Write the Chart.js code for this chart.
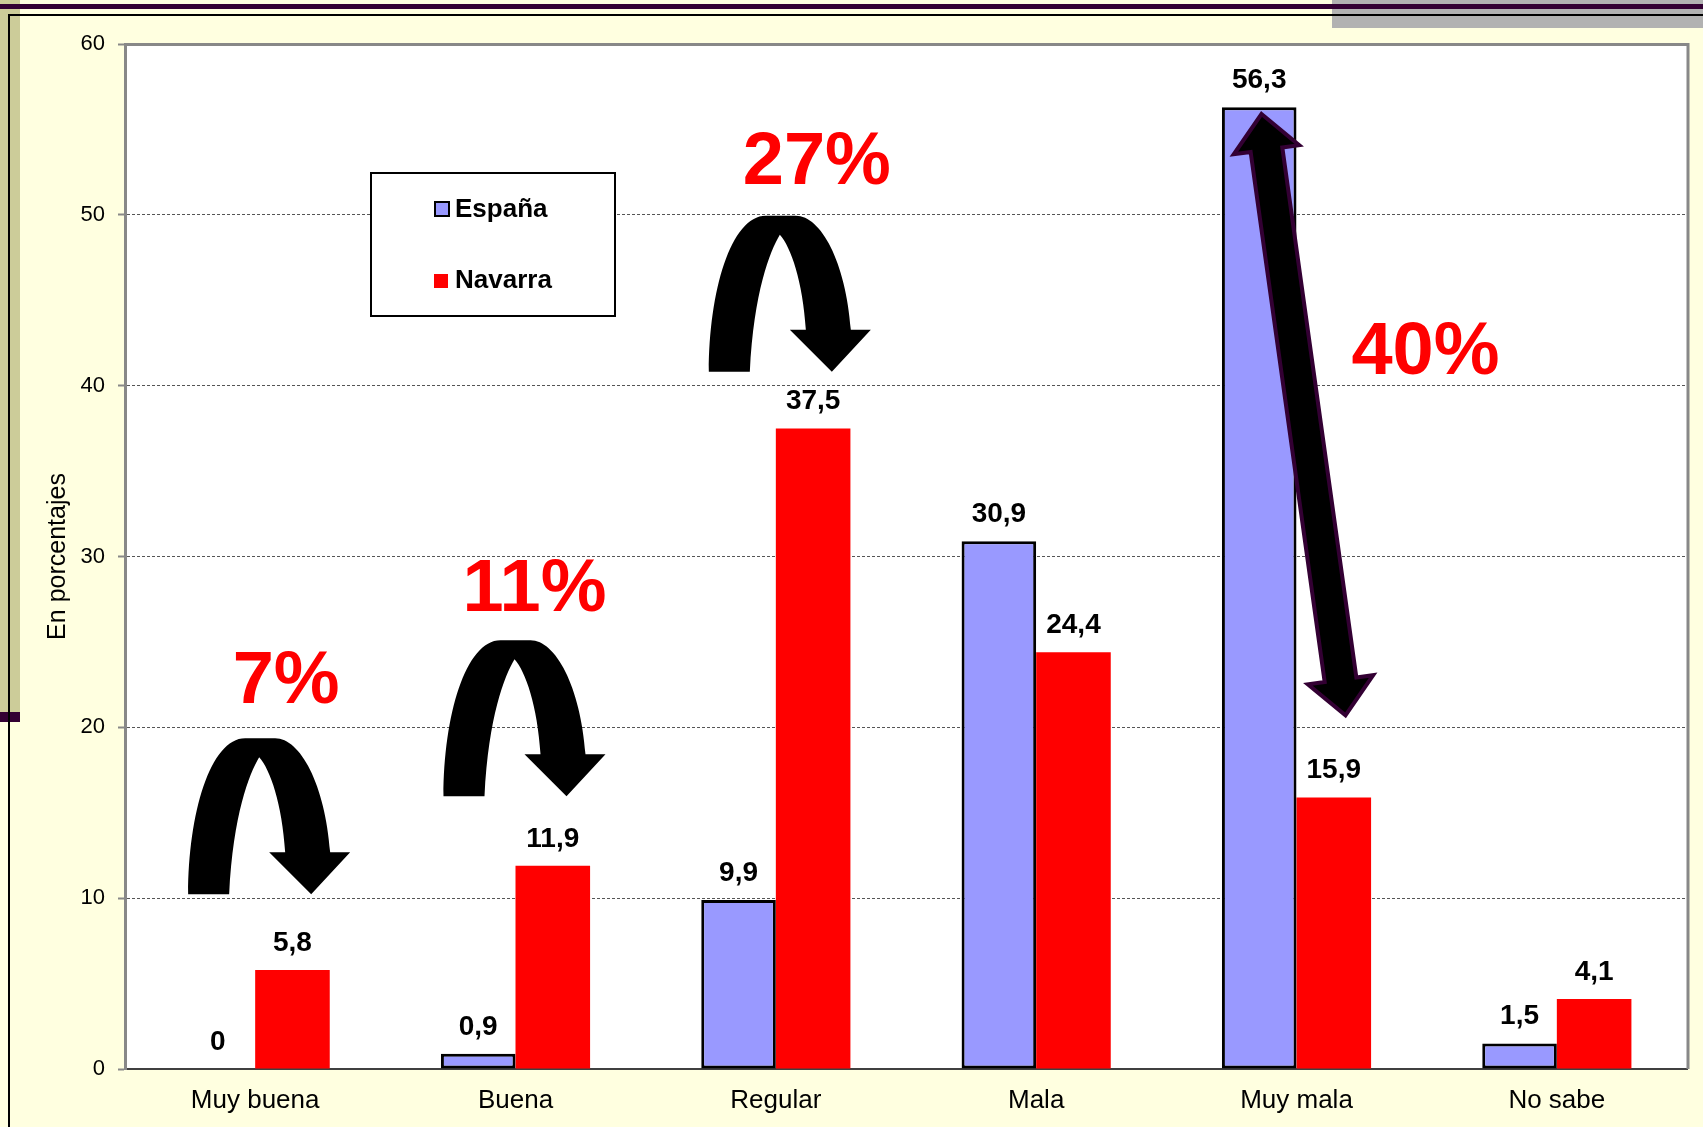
<!DOCTYPE html>
<html>
<head>
<meta charset="utf-8">
<script src="https://cdn.jsdelivr.net/npm/chart.js@4.4.0/dist/chart.umd.min.js"></script>
<style>
  html, body { margin: 0; padding: 0; background: #FFFFE0; overflow: hidden; }
  canvas { display: block; }
</style>
</head>
<body>
<canvas id="grafico" width="1703" height="1127"></canvas>
<script>
// Datos (en porcentajes)
const categorias = ['Muy buena', 'Buena', 'Regular', 'Mala', 'Muy mala', 'No sabe'];
const espana = [0, 0.9, 9.9, 30.9, 56.3, 1.5];
const navarra = [5.8, 11.9, 37.5, 24.4, 15.9, 4.1];
const etiquetasSerie = ['España', 'Navarra'];
const textosDiferencia = ['7%', '11%', '27%', '40%'];

const FUENTE = "'Liberation Sans', Arial, sans-serif";

// Colocación de las anotaciones (categoría, desplazamiento en px, valor del eje)
const posTextos = [
  { cat: 0, dx: 31, v: 21.4 },
  { cat: 1, dx: 19, v: 26.8 },
  { cat: 2, dx: 41, v: 51.8 },
  { cat: 4, dx: 129, v: 40.7 }
];
const posFlechasU = [
  { cat: 0, dx: 0, v: 10.23 },
  { cat: 1, dx: -5, v: 15.96 },
  { cat: 2, dx: 0, v: 40.82 }
];
const flechaDoble = { cat: 4, dx1: -35, v1: 55.9, dx2: 49, v2: 20.7 };

// Fondo de la diapositiva y area blanca del gráfico
const fondo = {
  id: 'fondo',
  beforeDraw(chart) {
    const ctx = chart.ctx;
    const a = chart.chartArea;
    ctx.save();
    ctx.fillStyle = '#FFFFE0';
    ctx.fillRect(0, 0, chart.width, chart.height);
    ctx.fillStyle = '#B2B2B2';
    ctx.fillRect(1332, 0, chart.width - 1332, 28);
    ctx.fillStyle = '#CCCC99';
    ctx.fillRect(0, 0, 20, 712);
    ctx.fillStyle = '#330033';
    ctx.fillRect(0, 4, chart.width, 5);
    ctx.fillRect(0, 712, 20, 10);
    ctx.fillStyle = '#000';
    ctx.fillRect(8, 14, chart.width - 8, 2);
    ctx.fillRect(8, 14, 2, chart.height - 14);
    ctx.fillStyle = '#FFFFFF';
    ctx.fillRect(a.left, a.top, a.right - a.left, a.bottom - a.top);
    ctx.restore();
  }
};

function flechaU(ctx, x, y) {
  ctx.save();
  ctx.translate(x, y);
  ctx.beginPath();
  ctx.moveTo(-67, 0);
  ctx.bezierCurveTo(-67, -80, -45, -156, -10, -156);
  ctx.lineTo(20, -156);
  ctx.bezierCurveTo(45, -156, 70, -110, 75, -42);
  ctx.lineTo(95, -42);
  ctx.lineTo(56, 0);
  ctx.lineTo(14, -42);
  ctx.lineTo(30, -42);
  ctx.bezierCurveTo(27, -90, 15, -125, 4, -137);
  ctx.bezierCurveTo(-6, -120, -22, -80, -26, 0);
  ctx.closePath();
  ctx.fillStyle = '#000';
  ctx.fill();
  ctx.restore();
}

function flechaDobleDibujo(ctx, x1, y1, x2, y2) {
  const ang = Math.atan2(y2 - y1, x2 - x1);
  const largo = Math.hypot(x2 - x1, y2 - y1);
  const medio = 16, cabeza = 33, lc = 36;
  ctx.save();
  ctx.translate(x1, y1);
  ctx.rotate(ang);
  ctx.beginPath();
  ctx.moveTo(0, 0);
  ctx.lineTo(lc, -cabeza);
  ctx.lineTo(lc, -medio);
  ctx.lineTo(largo - lc, -medio);
  ctx.lineTo(largo - lc, -cabeza);
  ctx.lineTo(largo, 0);
  ctx.lineTo(largo - lc, cabeza);
  ctx.lineTo(largo - lc, medio);
  ctx.lineTo(lc, medio);
  ctx.lineTo(lc, cabeza);
  ctx.closePath();
  ctx.fillStyle = '#000';
  ctx.fill();
  ctx.lineWidth = 4;
  ctx.lineJoin = 'miter';
  ctx.strokeStyle = '#330033';
  ctx.stroke();
  ctx.restore();
}

const extras = {
  id: 'extras',
  afterDatasetsDraw(chart) {
    const ctx = chart.ctx;
    const a = chart.chartArea;
    const xs = chart.scales.x, ys = chart.scales.y;

    // marco del área de trazado (arriba y derecha)
    ctx.save();
    ctx.strokeStyle = '#888888';
    ctx.lineWidth = 3;
    ctx.beginPath();
    ctx.moveTo(a.left, a.top + 0.5);
    ctx.lineTo(a.right + 1, a.top + 0.5);
    ctx.lineTo(a.right + 1, a.bottom);
    ctx.stroke();
    ctx.restore();

    // valores encima de las barras
    ctx.save();
    ctx.font = 'bold 28px ' + FUENTE;
    ctx.fillStyle = '#000';
    ctx.textAlign = 'center';
    ctx.textBaseline = 'alphabetic';
    chart.data.datasets.forEach((ds, d) => {
      chart.getDatasetMeta(d).data.forEach((bar, i) => {
        ctx.fillText(String(ds.data[i]).replace('.', ','), bar.x, bar.y - 19);
      });
    });
    ctx.restore();

    // flechas curvas
    posFlechasU.forEach(p => {
      flechaU(ctx, xs.getPixelForValue(p.cat) + p.dx, ys.getPixelForValue(p.v));
    });

    // flecha doble en "Muy mala"
    const cx = xs.getPixelForValue(flechaDoble.cat);
    flechaDobleDibujo(ctx, cx + flechaDoble.dx1, ys.getPixelForValue(flechaDoble.v1),
      cx + flechaDoble.dx2, ys.getPixelForValue(flechaDoble.v2));

    // porcentajes en rojo
    ctx.save();
    ctx.font = 'bold 74px ' + FUENTE;
    ctx.fillStyle = '#FF0000';
    ctx.textAlign = 'center';
    ctx.textBaseline = 'alphabetic';
    posTextos.forEach((p, i) => {
      ctx.fillText(textosDiferencia[i], xs.getPixelForValue(p.cat) + p.dx, ys.getPixelForValue(p.v));
    });
    ctx.restore();

    // leyenda
    const lx = a.left + 246, ly = a.top + 129;
    ctx.save();
    ctx.fillStyle = '#FFFFFF';
    ctx.fillRect(lx, ly, 244, 143);
    ctx.strokeStyle = '#000';
    ctx.lineWidth = 2;
    ctx.strokeRect(lx, ly, 244, 143);
    ctx.font = 'bold 26px ' + FUENTE;
    ctx.textAlign = 'left';
    ctx.textBaseline = 'alphabetic';
    chart.data.datasets.forEach((ds, d) => {
      const yb = ly + 44 + d * 71;
      if (ds.borderWidth) {
        ctx.fillStyle = ds.backgroundColor;
        ctx.fillRect(lx + 64, yb - 15, 14, 14);
        ctx.strokeStyle = ds.borderColor;
        ctx.lineWidth = 2;
        ctx.strokeRect(lx + 64, yb - 15, 14, 14);
      } else {
        ctx.fillStyle = ds.backgroundColor;
        ctx.fillRect(lx + 63, yb - 14, 14, 14);
      }
      ctx.fillStyle = '#000';
      ctx.fillText(ds.label, lx + 84, yb);
    });
    ctx.restore();

    // título del eje Y
    ctx.save();
    ctx.translate(58, (a.top + a.bottom) / 2);
    ctx.rotate(-Math.PI / 2);
    ctx.font = '25px ' + FUENTE;
    ctx.fillStyle = '#000';
    ctx.textAlign = 'center';
    ctx.textBaseline = 'middle';
    ctx.fillText('En porcentajes', 0, 0);
    ctx.restore();
  }
};

new Chart(document.getElementById('grafico'), {
  type: 'bar',
  data: {
    labels: categorias,
    datasets: [
      {
        label: etiquetasSerie[0],
        data: espana,
        backgroundColor: '#9999FF',
        borderColor: '#000000',
        borderWidth: 3,
        borderSkipped: false,
        categoryPercentage: 0.573,
        barPercentage: 1
      },
      {
        label: etiquetasSerie[1],
        data: navarra,
        backgroundColor: '#FF0000',
        borderWidth: 0,
        categoryPercentage: 0.573,
        barPercentage: 1
      }
    ]
  },
  options: {
    responsive: false,
    animation: false,
    devicePixelRatio: 1,
    layout: { padding: { left: 0, top: 44, right: 16, bottom: 0 } },
    plugins: {
      legend: { display: false },
      tooltip: { enabled: false }
    },
    scales: {
      x: {
        grid: { display: false, drawTicks: false },
        border: { display: true, color: '#404040', width: 2 },
        ticks: {
          color: '#000',
          font: { family: FUENTE, size: 26 },
          padding: 16,
          maxRotation: 0
        },
        afterFit(scale) { scale.height = 58; }
      },
      y: {
        min: 0,
        max: 60,
        grid: {
          color: '#555555',
          lineWidth: 1,
          tickLength: 7,
          tickColor: '#888888',
          tickWidth: 2
        },
        border: { display: true, color: '#888888', width: 3, dash: [3, 2] },
        ticks: {
          stepSize: 10,
          color: '#000',
          font: { family: FUENTE, size: 22 },
          padding: 13
        },
        afterFit(scale) { scale.width = 125; }
      }
    }
  },
  plugins: [fondo, extras]
});
</script>
</body>
</html>
